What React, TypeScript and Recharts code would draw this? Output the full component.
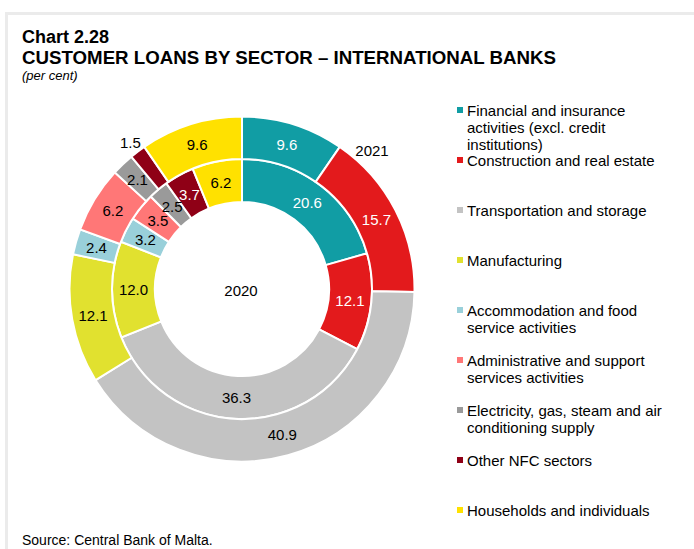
import React from 'react';
import { PieChart, Pie, Cell } from 'recharts';

const categories = [
  'Financial and insurance activities (excl. credit institutions)',
  'Construction and real estate',
  'Transportation and storage',
  'Manufacturing',
  'Accommodation and food service activities',
  'Administrative and support services activities',
  'Electricity, gas, steam and air conditioning supply',
  'Other NFC sectors',
  'Households and individuals',
];
const legendLines = [
  ['Financial and insurance', 'activities (excl. credit', 'institutions)'],
  ['Construction and real estate'],
  ['Transportation and storage'],
  ['Manufacturing'],
  ['Accommodation and food', 'service activities'],
  ['Administrative and support', 'services activities'],
  ['Electricity, gas, steam and air', 'conditioning supply'],
  ['Other NFC sectors'],
  ['Households and individuals'],
];
const colors = ['#119DA4', '#E31A1C', '#C3C3C3', '#E1E12F', '#99D0DA', '#FF7777', '#9A9A9A', '#8F0016', '#FFE100'];
const values2020 = [20.6, 12.1, 36.3, 12.0, 3.2, 3.5, 2.5, 3.7, 6.2];
const values2021 = [9.6, 15.7, 40.9, 12.1, 2.4, 6.2, 2.1, 1.5, 9.6];
const whiteLabel = [true, true, false, false, false, false, false, true, false];
const legendCenters = [110, 160, 210, 260, 310, 360, 410, 460, 510];

const data2020 = categories.map((name, i) => ({ name, value: values2020[i] }));
const data2021 = categories.map((name, i) => ({ name, value: values2021[i] }));

const FONT = '"Liberation Sans", Arial, sans-serif';
const RADIAN = Math.PI / 180;

const makeLabel = (outsideIdx: number) => (props: any) => {
  const { cx, cy, midAngle, innerRadius, outerRadius, index, value } = props;
  const outside = index === outsideIdx;
  const r = outside ? outerRadius + 12 : (innerRadius + outerRadius) / 2;
  const x = cx + r * Math.cos(-midAngle * RADIAN);
  const y = cy + r * Math.sin(-midAngle * RADIAN);
  return (
    <text
      key={`l-${index}`}
      x={x}
      y={y}
      textAnchor="middle"
      dominantBaseline="central"
      fill={!outside && whiteLabel[index] ? '#FFFFFF' : '#000000'}
      fontSize={15}
      fontFamily={FONT}
    >
      {Number(value).toFixed(1)}
    </text>
  );
};

export default function App() {
  return (
    <div style={{ position: 'absolute', left: 0, top: 0, width: 694, height: 549, background: '#fff', fontFamily: FONT, overflow: 'hidden', color: '#000' }}>
      <div style={{ position: 'absolute', left: 5, top: 12, width: 700, height: 560, borderTop: '3px solid #ebebeb', borderLeft: '3px solid #ebebeb' }} />
      <div style={{ position: 'absolute', left: 22, top: 29, fontSize: 18, fontWeight: 'bold', lineHeight: '17px', whiteSpace: 'nowrap' }}>
        Chart 2.28
      </div>
      <div style={{ position: 'absolute', left: 22, top: 49, fontSize: 18.7, fontWeight: 'bold', lineHeight: '17px', whiteSpace: 'nowrap' }}>
        CUSTOMER LOANS BY SECTOR – INTERNATIONAL BANKS
      </div>
      <div style={{ position: 'absolute', left: 22, top: 68, fontSize: 13, fontStyle: 'italic', lineHeight: '15px', whiteSpace: 'nowrap' }}>
        (per cent)
      </div>

      <div style={{ position: 'absolute', left: 0, top: 0 }}>
        <PieChart width={694} height={549} margin={{ top: 0, right: 0, bottom: 0, left: 0 }}>
          <Pie
            data={data2020}
            dataKey="value"
            nameKey="name"
            cx={242}
            cy={289}
            innerRadius={87}
            outerRadius={130}
            startAngle={90}
            endAngle={-270}
            stroke="#FFFFFF"
            strokeWidth={2}
            isAnimationActive={false}
            labelLine={false}
            label={makeLabel(-1)}
          >
            {data2020.map((d, i) => (
              <Cell key={`a-${i}`} fill={colors[i]} />
            ))}
          </Pie>
          <Pie
            data={data2021}
            dataKey="value"
            nameKey="name"
            cx={242}
            cy={289}
            innerRadius={130}
            outerRadius={172.5}
            startAngle={90}
            endAngle={-270}
            stroke="#FFFFFF"
            strokeWidth={2}
            isAnimationActive={false}
            labelLine={false}
            label={makeLabel(7)}
          >
            {data2021.map((d, i) => (
              <Cell key={`b-${i}`} fill={colors[i]} />
            ))}
          </Pie>
        </PieChart>
      </div>

      <div style={{ position: 'absolute', left: 211, top: 282, width: 60, textAlign: 'center', fontSize: 15, lineHeight: '18px' }}>2020</div>
      <div style={{ position: 'absolute', left: 342, top: 142, width: 60, textAlign: 'center', fontSize: 15, lineHeight: '18px' }}>2021</div>

      {legendLines.map((lines, i) => (
        <div key={i} style={{ position: 'absolute', left: 457, top: legendCenters[i] - 8.5 }}>
          <div style={{ position: 'absolute', left: 0, top: 5.5, width: 6, height: 6, background: colors[i] }} />
          <div style={{ position: 'absolute', left: 10, top: 0, fontSize: 15, lineHeight: '17px', whiteSpace: 'nowrap', color: '#000' }}>
            {lines.map((t, j) => (
              <div key={j}>{t}</div>
            ))}
          </div>
        </div>
      ))}

      <div style={{ position: 'absolute', left: 22, top: 532, fontSize: 14, lineHeight: '16px', whiteSpace: 'nowrap' }}>
        Source: Central Bank of Malta.
      </div>
    </div>
  );
}
